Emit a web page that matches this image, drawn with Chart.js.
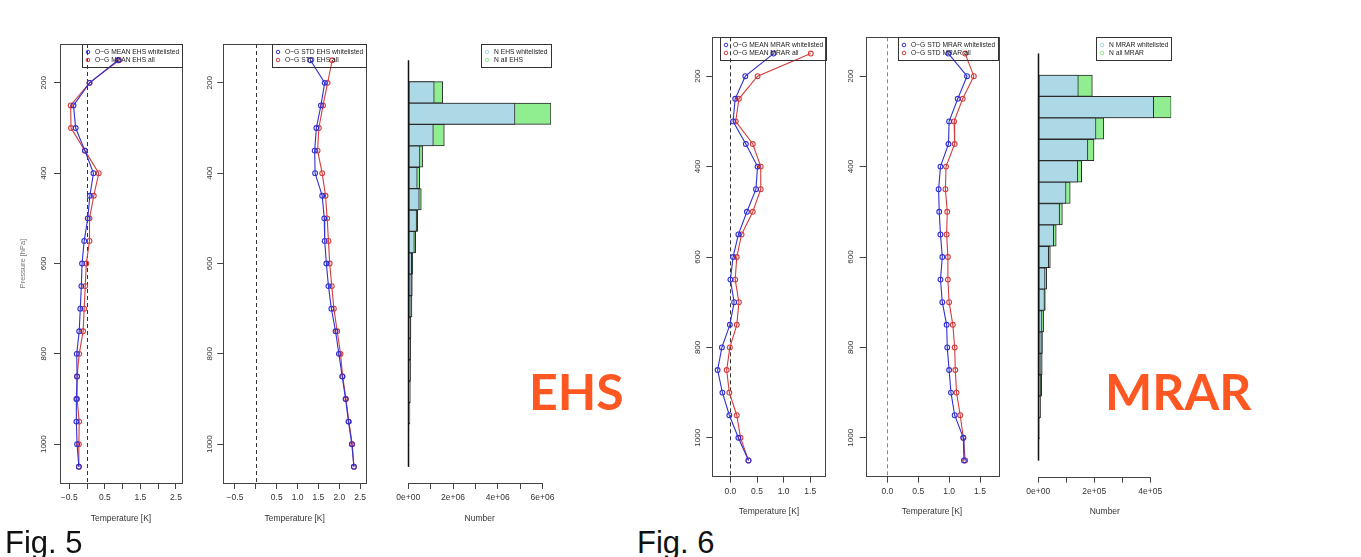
<!DOCTYPE html>
<html lang="en">

<head>
    <meta charset="UTF-8">
    <title>O-G statistics EHS / MRAR</title>
    <script src="https://cdn.jsdelivr.net/npm/chart.js@4.4.1/dist/chart.umd.min.js"></script>
    <style>
        body { margin: 0; background: #fff; width: 1361px; height: 557px; position: relative; overflow: hidden; }
        canvas { position: absolute; }
        .fig { position: absolute; font-family: 'Liberation Sans', Arial, sans-serif; font-size: 31px; line-height: 31px; color: #111; }
        .tag { position: absolute; font-family: Lato, 'Liberation Sans', sans-serif; font-weight: bold; font-size: 50px; line-height: 50px; color: #ff5722; }
    </style>
</head>

<body>
    <canvas id="ehsMean"></canvas>
    <canvas id="ehsStd"></canvas>
    <canvas id="ehsN"></canvas>
    <canvas id="mrarMean"></canvas>
    <canvas id="mrarStd"></canvas>
    <canvas id="mrarN"></canvas>

    <div class="fig" style="left:5px; top:527px">Fig. 5</div>
    <div class="fig" style="left:637px; top:527px">Fig. 6</div>
    <div class="tag" style="left:529px; top:366px">EHS</div>
    <div class="tag" style="left:1105px; top:366px">MRAR</div>

    <script>
        // pressure levels (hPa), top to bottom
        const levels = [150, 200, 250, 300, 350, 400, 450, 500, 550, 600, 650, 700, 750, 800, 850, 900, 950, 1000, 1050];
        const pressureTicks = [200, 400, 600, 800, 1000];

        // Fig. 5 : EHS
        const ehsMeanWl = [0.87, 0.07, -0.38, -0.32, -0.06, 0.18, 0.08, 0.02, -0.08, -0.14, -0.16, -0.19, -0.22, -0.29, -0.28, -0.30, -0.30, -0.28, -0.23];
        const ehsMeanAll = [0.90, 0.07, -0.46, -0.45, -0.06, 0.33, 0.19, 0.07, 0.07, -0.02, -0.05, -0.08, -0.11, -0.22, -0.28, -0.28, -0.22, -0.23, -0.23];
        const ehsStdWl = [1.31, 1.65, 1.56, 1.45, 1.41, 1.42, 1.59, 1.64, 1.65, 1.69, 1.74, 1.81, 1.91, 1.99, 2.07, 2.15, 2.22, 2.30, 2.35];
        const ehsStdAll = [1.83, 1.72, 1.61, 1.51, 1.48, 1.59, 1.67, 1.71, 1.74, 1.77, 1.82, 1.87, 1.95, 2.03, 2.08, 2.16, 2.23, 2.31, 2.35];
        const ehsNWl = [0, 1.16e6, 4.77e6, 1.12e6, 0.52e6, 0.40e6, 0.49e6, 0.37e6, 0.27e6, 0.15e6, 0.14e6, 0.13e6, 0.10e6, 0.09e6, 0.085e6, 0.075e6, 0.06e6, 0.025e6, 0.01e6];
        const ehsNAll = [0, 1.54e6, 6.38e6, 1.61e6, 0.64e6, 0.51e6, 0.58e6, 0.42e6, 0.33e6, 0.20e6, 0.18e6, 0.165e6, 0.12e6, 0.105e6, 0.10e6, 0.09e6, 0.075e6, 0.03e6, 0.015e6];

        // Fig. 6 : MRAR
        const mrarMeanWl = [0.81, 0.28, 0.09, 0.05, 0.29, 0.51, 0.48, 0.31, 0.15, 0.05, 0.00, 0.07, -0.01, -0.16, -0.24, -0.15, -0.02, 0.15, 0.34];
        const mrarMeanAll = [1.51, 0.51, 0.16, 0.10, 0.42, 0.57, 0.57, 0.42, 0.21, 0.12, 0.09, 0.16, 0.12, -0.01, -0.07, -0.02, 0.12, 0.19, 0.34];
        const mrarStdWl = [0.99, 1.29, 1.14, 1.00, 0.99, 0.86, 0.83, 0.84, 0.86, 0.89, 0.86, 0.89, 0.96, 0.97, 1.00, 1.03, 1.09, 1.23, 1.24];
        const mrarStdAll = [1.26, 1.40, 1.22, 1.08, 1.09, 0.95, 0.94, 0.97, 0.96, 0.98, 0.98, 1.00, 1.06, 1.09, 1.10, 1.12, 1.18, 1.23, 1.26];
        const mrarNWl = [0, 1.43e5, 4.12e5, 2.06e5, 1.77e5, 1.41e5, 0.99e5, 0.76e5, 0.55e5, 0.37e5, 0.24e5, 0.22e5, 0.13e5, 0.11e5, 0.10e5, 0.08e5, 0.06e5, 0.03e5, 0.01e5];
        const mrarNAll = [0, 1.93e5, 4.75e5, 2.34e5, 1.99e5, 1.55e5, 1.14e5, 0.86e5, 0.64e5, 0.43e5, 0.30e5, 0.25e5, 0.19e5, 0.15e5, 0.14e5, 0.12e5, 0.08e5, 0.04e5, 0.015e5];

        // x ticks and the labels R kept
        const ehsMeanTicks = [-0.5, 0, 0.5, 1, 1.5, 2, 2.5];
        const ehsMeanLabels = ['\u22120.5', '', '0.5', '', '1.5', '', '2.5'];
        const ehsStdTicks = [-0.5, 0, 0.5, 1, 1.5, 2, 2.5];
        const ehsStdLabels = ['\u22120.5', '', '0.5', '1.0', '1.5', '2.0', '2.5'];
        const ehsNTicks = [0, 1e6, 2e6, 3e6, 4e6, 5e6, 6e6];
        const ehsNLabels = ['0e+00', '', '2e+06', '', '4e+06', '', '6e+06'];
        const mrarTicks = [0, 0.5, 1, 1.5];
        const mrarLabels = ['0.0', '0.5', '1.0', '1.5'];
        const mrarNTicks = [0, 1e5, 2e5, 3e5, 4e5];
        const mrarNLabels = ['0e+00', '', '2e+05', '', '4e+05'];

        Chart.defaults.font.family = "'Liberation Sans', Arial, sans-serif";
        Chart.defaults.color = '#333';
        Chart.defaults.animation = false;
        Chart.defaults.plugins.legend.display = false;
        Chart.defaults.plugins.tooltip.enabled = false;

        const blue = '#3030d2';
        const red = '#d43c3c';
        const lblue = '#add8e6';
        const lgreen = '#90ee90';

        // R look: box, abline(v=0), barplot base line, short axis line, legend box
        const rPlot = {
            id: 'rplot',
            beforeDatasetsDraw(chart, args, o) {
                const ctx = chart.ctx, a = chart.chartArea, sx = chart.scales.x;
                if (!o.zero) return;
                const x = Math.round(sx.getPixelForValue(0)) + 0.5;
                ctx.save();
                ctx.strokeStyle = o.zero;
                ctx.lineWidth = 1;
                ctx.setLineDash([4, 3]);
                ctx.beginPath();
                ctx.moveTo(x, a.top);
                ctx.lineTo(x, a.bottom);
                ctx.stroke();
                ctx.restore();
            },
            afterDatasetsDraw(chart, args, o) {
                const ctx = chart.ctx, a = chart.chartArea, sx = chart.scales.x, sy = chart.scales.y;
                ctx.save();
                if (o.box) {
                    ctx.strokeStyle = '#444';
                    ctx.lineWidth = 1;
                    ctx.strokeRect(Math.round(a.left) + 0.5, Math.round(a.top) + 0.5, Math.round(a.right - a.left), Math.round(a.bottom - a.top));
                }
                if (o.base) {
                    const x = Math.round(sx.getPixelForValue(0)) + 0.5;
                    ctx.strokeStyle = '#111';
                    ctx.lineWidth = 1.5;
                    ctx.beginPath();
                    ctx.moveTo(x, sy.getPixelForValue(0));
                    ctx.lineTo(x, sy.getPixelForValue(levels.length));
                    ctx.stroke();
                    // axis line from first to last tick
                    const y = Math.round(a.bottom) + 0.5;
                    ctx.strokeStyle = '#444';
                    ctx.lineWidth = 1;
                    ctx.beginPath();
                    ctx.moveTo(sx.getPixelForValue(sx.ticks[0].value), y);
                    ctx.lineTo(sx.getPixelForValue(sx.ticks[sx.ticks.length - 1].value), y);
                    ctx.stroke();
                }
                // legend, topright inside the plot region
                const items = chart.data.datasets.map(d => ({ text: d.label, color: d.legendColor }));
                ctx.font = "6.7px 'Liberation Sans', Arial, sans-serif";
                const w = Math.max(...items.map(it => ctx.measureText(it.text).width)) + 16;
                const h = items.length * 8 + 7;
                const x0 = Math.round(a.right - w) + 0.5, y0 = Math.round(a.top) + 0.5;
                ctx.strokeStyle = '#333';
                ctx.lineWidth = 1;
                ctx.strokeRect(x0, y0, Math.round(w), h);
                items.forEach((it, i) => {
                    const y = y0 + 7.5 + i * 8;
                    ctx.beginPath();
                    ctx.arc(x0 + 5.5, y, 1.8, 0, 2 * Math.PI);
                    ctx.strokeStyle = it.color;
                    ctx.stroke();
                    ctx.fillStyle = '#222';
                    ctx.textBaseline = 'middle';
                    ctx.fillText(it.text, x0 + 12.5, y);
                });
                ctx.restore();
            }
        };

        function profile(label, xs, color) {
            return {
                label: label,
                legendColor: color,
                data: levels.map((p, i) => ({ x: xs[i], y: p })),
                showLine: true,
                borderColor: color,
                borderWidth: 1.1,
                pointRadius: 2.4,
                pointHoverRadius: 2.4,
                pointBorderWidth: 1.1,
                pointBorderColor: color,
                pointBackgroundColor: 'rgba(0,0,0,0)'
            };
        }

        function counts(label, ns, color) {
            return {
                label: label,
                legendColor: color,
                data: ns.map((n, i) => ({ x: n, y: i + 0.5 })),
                backgroundColor: color,
                borderColor: '#2a2a2a',
                borderWidth: 1,
                borderSkipped: false,
                grouped: false,
                barPercentage: 1,
                categoryPercentage: 1
            };
        }

        function xAxis(min, max, ticks, labels, title, height) {
            return {
                type: 'linear', min: min, max: max, offset: false,
                afterBuildTicks: s => { s.ticks = ticks.map(v => ({ value: v })); },
                afterFit: s => { s.height = height; },
                grid: { drawOnChartArea: false, tickLength: 6, color: '#444' },
                border: { display: false },
                ticks: { autoSkip: false, maxRotation: 0, padding: 4, font: { size: 8.5 }, color: '#333', callback: (v, i) => labels[i] },
                title: { display: true, text: title, font: { size: 8.5 }, color: '#333', padding: { top: 0, bottom: height - 35.3 - 5.1 } }
            };
        }

        function yAxis(width, labelOffset, withTitle) {
            return {
                type: 'linear', reverse: true, min: 114, max: 1086, offset: false,
                afterBuildTicks: s => { s.ticks = pressureTicks.map(v => ({ value: v })); },
                afterFit: s => { s.width = width; },
                grid: { drawOnChartArea: false, tickLength: 6, color: '#444' },
                border: { display: false },
                ticks: { minRotation: 90, maxRotation: 90, crossAlign: 'center', padding: labelOffset - 6 - 8.9, font: { size: 8 }, color: '#333', callback: v => String(v) },
                title: { display: withTitle, text: 'Pressure [hPa]', font: { size: 7.5 }, color: '#777', padding: { top: 18.5 } }
            };
        }

        // canvas box in page pixels
        function place(id, canvasBox) {
            const c = document.getElementById(id);
            c.width = canvasBox.r - canvasBox.l;
            c.height = canvasBox.b - canvasBox.t;
            c.style.left = canvasBox.l + 'px';
            c.style.top = canvasBox.t + 'px';
            return c;
        }

        function profilePanel(id, cb, pb, datasets, xmin, xmax, ticks, labels, zero, labelOffset, withTitle) {
            new Chart(place(id, cb), {
                type: 'scatter',
                data: { datasets: datasets },
                options: {
                    responsive: false,
                    layout: { padding: { top: pb.t - cb.t, right: cb.r - pb.r, left: 0, bottom: 0 } },
                    scales: {
                        x: xAxis(xmin, xmax, ticks, labels, 'Temperature [K]', cb.b - pb.b),
                        y: yAxis(pb.l - cb.l, labelOffset, withTitle)
                    },
                    plugins: { rplot: { box: true, zero: zero } }
                },
                plugins: [rPlot]
            });
        }

        function countPanel(id, cb, pb, datasets, xmax, ticks, labels) {
            new Chart(place(id, cb), {
                type: 'bar',
                data: { datasets: datasets },
                options: {
                    responsive: false,
                    indexAxis: 'y',
                    layout: { padding: { top: pb.t - cb.t, right: cb.r - pb.r, left: pb.l - cb.l, bottom: 0 } },
                    scales: {
                        x: xAxis(0, xmax, ticks, labels, 'Number', cb.b - pb.b),
                        y: {
                            type: 'linear', reverse: true, min: -0.76, max: 19.76, display: false, offset: false,
                            afterBuildTicks: s => { s.ticks = levels.map((p, i) => ({ value: i + 0.5 })); }
                        }
                    },
                    plugins: { rplot: { base: true } }
                },
                plugins: [rPlot]
            });
        }

        // Fig. 5
        profilePanel('ehsMean', { l: 0, t: 30, r: 190, b: 530 }, { l: 60, t: 44, r: 182, b: 483 },
            [profile('O\u2212G MEAN EHS whitelisted', ehsMeanWl, blue), profile('O\u2212G MEAN EHS all', ehsMeanAll, red)],
            -0.76, 2.67, ehsMeanTicks, ehsMeanLabels, '#333', 16.7, true);
        profilePanel('ehsStd', { l: 190, t: 30, r: 378, b: 530 }, { l: 223.3, t: 44, r: 366, b: 483 },
            [profile('O\u2212G STD EHS whitelisted', ehsStdWl, blue), profile('O\u2212G STD EHS all', ehsStdAll, red)],
            -0.78, 2.64, ehsStdTicks, ehsStdLabels, '#333', 13.3, false);
        countPanel('ehsN', { l: 378, t: 30, r: 600, b: 530 }, { l: 408.3, t: 44, r: 551, b: 483 },
            [counts('N EHS whitelisted', ehsNWl, lblue), counts('N all EHS', ehsNAll, lgreen)],
            6.38e6, ehsNTicks, ehsNLabels);

        // Fig. 6
        profilePanel('mrarMean', { l: 660, t: 23, r: 836, b: 524 }, { l: 712.3, t: 37.3, r: 825.7, b: 476.7 },
            [profile('O\u2212G MEAN MRAR whitelisted', mrarMeanWl, blue), profile('O\u2212G MEAN MRAR all', mrarMeanAll, red)],
            -0.34, 1.79, mrarTicks, mrarLabels, '#333', 14.3, false);
        profilePanel('mrarStd', { l: 836, t: 23, r: 1006, b: 524 }, { l: 865.7, t: 37.3, r: 998.3, b: 476.7 },
            [profile('O\u2212G STD MRAR whitelisted', mrarStdWl, blue), profile('O\u2212G STD MRAR all', mrarStdAll, red)],
            -0.35, 1.796, mrarTicks, mrarLabels, '#888', 15, false);
        countPanel('mrarN', { l: 1006, t: 23, r: 1200, b: 524 }, { l: 1038.3, t: 37.3, r: 1171.3, b: 476.7 },
            [counts('N MRAR whitelisted', mrarNWl, lblue), counts('N all MRAR', mrarNAll, lgreen)],
            4.75e5, mrarNTicks, mrarNLabels);
    </script>

</body>

</html>
